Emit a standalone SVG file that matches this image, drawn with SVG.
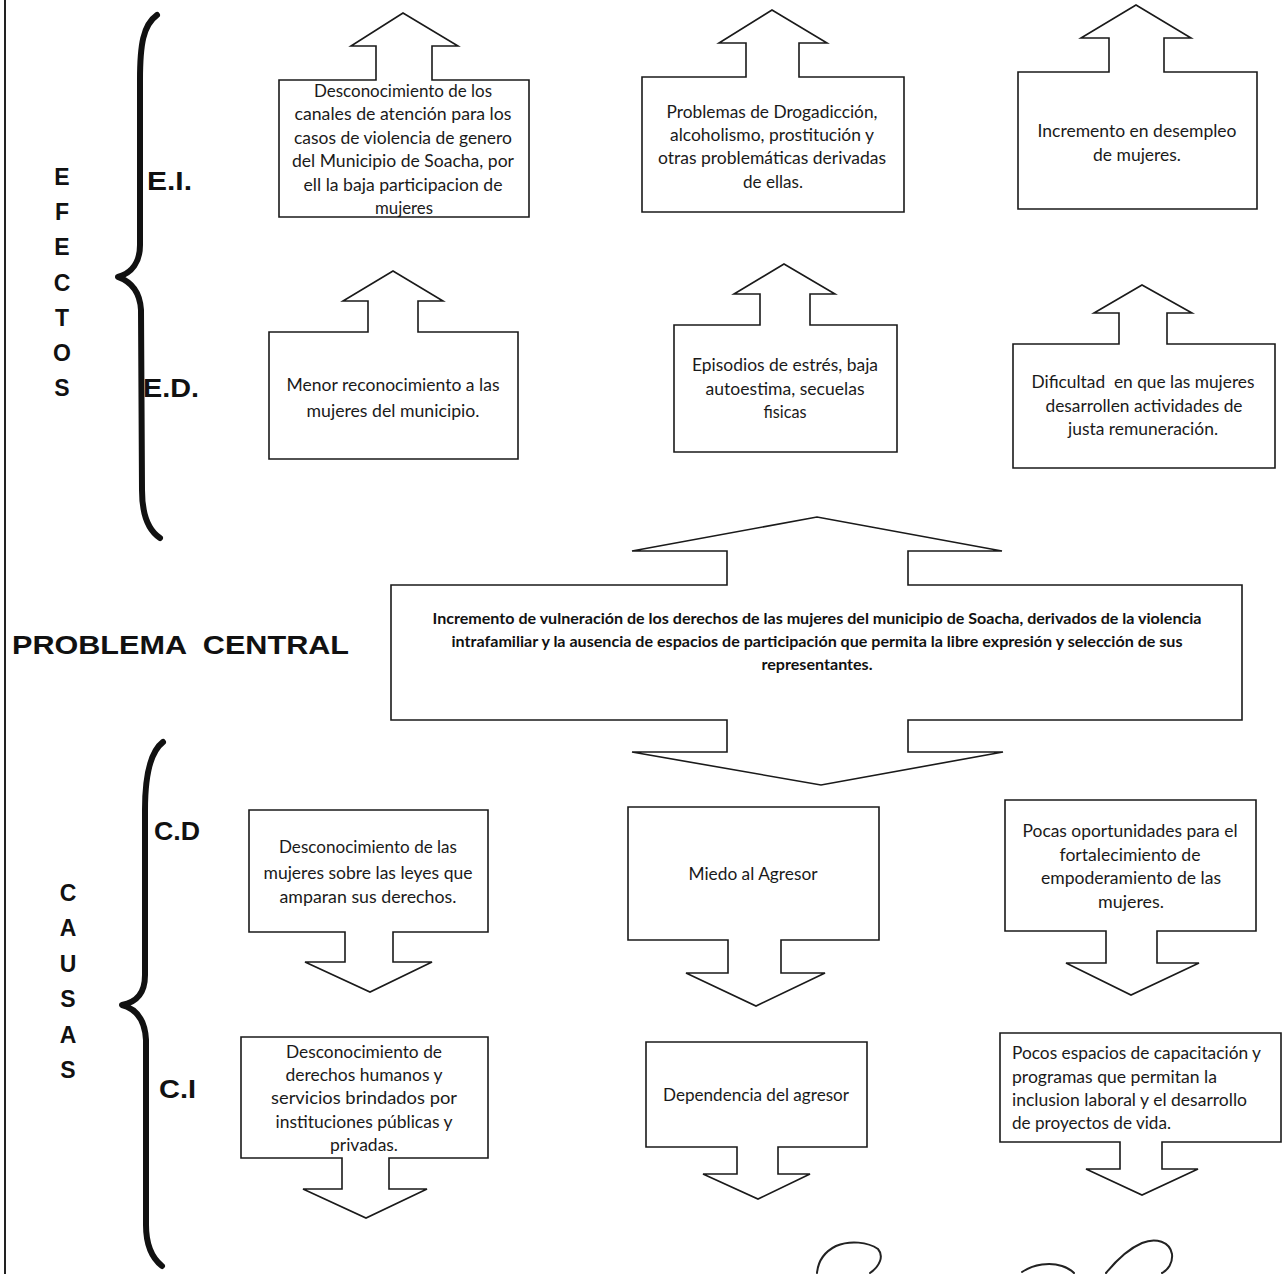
<svg xmlns="http://www.w3.org/2000/svg" width="1284" height="1274" viewBox="0 0 1284 1274">
<style>
.shape{fill:#fff;stroke:#1a1a1a;stroke-width:1.6;stroke-linejoin:miter}
.t{font-family:Lato,"Liberation Sans",sans-serif;font-size:17.5px;fill:#1a1a1a;text-anchor:middle}
.tl{font-family:Lato,"Liberation Sans",sans-serif;font-size:17.5px;fill:#1a1a1a;text-anchor:start}
.tb{font-family:Lato,"Liberation Sans",sans-serif;font-size:15px;font-weight:bold;fill:#111;text-anchor:middle}
.lab{font-family:"Liberation Sans",Arial,sans-serif;font-weight:bold;fill:#111;font-size:26px}
.let{font-family:"Liberation Sans",Arial,sans-serif;font-weight:bold;fill:#111;font-size:23px;text-anchor:middle}
.brace{fill:none;stroke:#111;stroke-width:6;stroke-linecap:round;stroke-linejoin:round}
.sig{fill:none;stroke:#222;stroke-width:2;stroke-linecap:round}
</style>
<rect width="1284" height="1274" fill="#fff"/>
<line x1="5" y1="0" x2="5" y2="1274" stroke="#222" stroke-width="2"/>

<g id="labels">
  <path class="brace" d="M157,15 C143,25 140,45 140,80 L140,245 C140,262 132,273 118,277 C132,282 140,292 141,310 L142,490 C142,515 148,530 160,538"/>
  <path class="brace" d="M163,742 C150,752 145,775 145,810 L145,975 C145,993 137,1002 122,1005 C137,1009 145,1020 146,1040 L146,1225 C146,1245 152,1258 162,1266"/>
  <text class="let" x="62" y="185">E</text>
  <text class="let" x="62" y="220">F</text>
  <text class="let" x="62" y="255">E</text>
  <text class="let" x="62" y="291">C</text>
  <text class="let" x="62" y="326">T</text>
  <text class="let" x="62" y="361">O</text>
  <text class="let" x="62" y="396">S</text>
  <text class="let" x="68" y="901">C</text>
  <text class="let" x="68" y="936">A</text>
  <text class="let" x="68" y="972">U</text>
  <text class="let" x="68" y="1007">S</text>
  <text class="let" x="68" y="1043">A</text>
  <text class="let" x="68" y="1078">S</text>
  <text class="lab" x="147" y="190" textLength="45" lengthAdjust="spacingAndGlyphs">E.I.</text>
  <text class="lab" x="143" y="397" textLength="56" lengthAdjust="spacingAndGlyphs">E.D.</text>
  <text class="lab" x="154" y="840" textLength="46" lengthAdjust="spacingAndGlyphs">C.D</text>
  <text class="lab" x="159" y="1098" textLength="37" lengthAdjust="spacingAndGlyphs">C.I</text>
  <text class="lab" x="12" y="654" font-size="31" textLength="337" lengthAdjust="spacingAndGlyphs" style="white-space:pre">PROBLEMA  CENTRAL</text>
</g>

<g id="connectors"></g>

<g id="e1">
  <polygon class="shape" points="279,80 376,80 376,46 351,46 403,13 458,46 432,46 432,80 529,80 529,217 279,217"/>
  <text class="t" x="403" y="97" textLength="178" lengthAdjust="spacingAndGlyphs">Desconocimiento de los</text>
  <text class="t" x="403" y="120" textLength="217" lengthAdjust="spacingAndGlyphs">canales de atención para los</text>
  <text class="t" x="403" y="144" textLength="218" lengthAdjust="spacingAndGlyphs">casos de violencia de genero</text>
  <text class="t" x="403" y="167" textLength="222" lengthAdjust="spacingAndGlyphs">del Municipio de Soacha, por</text>
  <text class="t" x="403" y="191" textLength="199" lengthAdjust="spacingAndGlyphs">ell la baja participacion de</text>
  <text class="t" x="404" y="214" textLength="58" lengthAdjust="spacingAndGlyphs">mujeres</text>
</g>
<g id="e2">
  <polygon class="shape" points="642,77 746,77 746,43 719,43 772,10 827,43 799,43 799,77 904,77 904,212 642,212"/>
  <text class="t" x="772" y="118" textLength="211" lengthAdjust="spacingAndGlyphs">Problemas de Drogadicción,</text>
  <text class="t" x="772" y="141" textLength="204" lengthAdjust="spacingAndGlyphs">alcoholismo, prostitución y</text>
  <text class="t" x="772" y="164" textLength="228" lengthAdjust="spacingAndGlyphs">otras problemáticas derivadas</text>
  <text class="t" x="773" y="188" textLength="60" lengthAdjust="spacingAndGlyphs">de ellas.</text>
</g>
<g id="e3">
  <polygon class="shape" points="1018,72 1109,72 1109,38 1081,38 1136,5 1191,38 1164,38 1164,72 1257,72 1257,209 1018,209"/>
  <text class="t" x="1137" y="137" textLength="199" lengthAdjust="spacingAndGlyphs">Incremento en desempleo</text>
  <text class="t" x="1137" y="161" textLength="88" lengthAdjust="spacingAndGlyphs">de mujeres.</text>
</g>
<g id="e4">
  <polygon class="shape" points="269,332 368,332 368,301 343,301 393,271 443,301 418,301 418,332 518,332 518,459 269,459"/>
  <text class="t" x="393" y="391" textLength="213" lengthAdjust="spacingAndGlyphs">Menor reconocimiento a las</text>
  <text class="t" x="393" y="417" textLength="173" lengthAdjust="spacingAndGlyphs">mujeres del municipio.</text>
</g>
<g id="e5">
  <polygon class="shape" points="674,325 760,325 760,294 734,294 784,264 835,294 810,294 810,325 897,325 897,452 674,452"/>
  <text class="t" x="785" y="371" textLength="186" lengthAdjust="spacingAndGlyphs">Episodios de estrés, baja</text>
  <text class="t" x="785" y="395" textLength="159" lengthAdjust="spacingAndGlyphs">autoestima, secuelas</text>
  <text class="t" x="785" y="418" textLength="43" lengthAdjust="spacingAndGlyphs">fisicas</text>
</g>
<g id="e6">
  <polygon class="shape" points="1013,344 1119,344 1119,313 1094,313 1142,285 1192,313 1167,313 1167,344 1275,344 1275,468 1013,468"/>
  <text class="t" x="1143" y="388" textLength="223" lengthAdjust="spacingAndGlyphs" style="white-space:pre">Dificultad  en que las mujeres</text>
  <text class="t" x="1144" y="412" textLength="197" lengthAdjust="spacingAndGlyphs">desarrollen actividades de</text>
  <text class="t" x="1143" y="435" textLength="150" lengthAdjust="spacingAndGlyphs">justa remuneración.</text>
</g>

<g id="central">
  <polygon class="shape" points="391,585 727,585 727,551 632,551 817,517 1002,551 908,551 908,585 1242,585 1242,720 908,720 908,752 1003,752 821,785 632,752 727,752 727,720 391,720"/>
  <text class="tb" x="817" y="624" textLength="769" lengthAdjust="spacingAndGlyphs">Incremento de vulneración de los derechos de las mujeres del municipio de Soacha, derivados de la violencia</text>
  <text class="tb" x="817" y="647" textLength="731" lengthAdjust="spacingAndGlyphs">intrafamiliar y la ausencia de espacios de participación que permita la libre expresión y selección de sus</text>
  <text class="tb" x="817" y="670" textLength="111" lengthAdjust="spacingAndGlyphs">representantes.</text>
</g>

<g id="c1">
  <polygon class="shape" points="249,810 488,810 488,932 393,932 393,962 432,962 370,992 305,962 345,962 345,932 249,932"/>
  <text class="t" x="368" y="853" textLength="178" lengthAdjust="spacingAndGlyphs">Desconocimiento de las</text>
  <text class="t" x="368" y="879" textLength="209" lengthAdjust="spacingAndGlyphs">mujeres sobre las leyes que</text>
  <text class="t" x="368" y="903" textLength="177" lengthAdjust="spacingAndGlyphs">amparan sus derechos.</text>
</g>
<g id="c2">
  <polygon class="shape" points="628,807 879,807 879,940 781,940 781,973 825,973 756,1006 686,973 728,973 728,940 628,940"/>
  <text class="t" x="753" y="880" textLength="129" lengthAdjust="spacingAndGlyphs">Miedo al Agresor</text>
</g>
<g id="c3">
  <polygon class="shape" points="1005,800 1256,800 1256,931 1157,931 1157,963 1199,963 1131,995 1066,963 1106,963 1106,931 1005,931"/>
  <text class="t" x="1130" y="837" textLength="215" lengthAdjust="spacingAndGlyphs">Pocas oportunidades para el</text>
  <text class="t" x="1130" y="861" textLength="141" lengthAdjust="spacingAndGlyphs">fortalecimiento de</text>
  <text class="t" x="1131" y="884" textLength="180" lengthAdjust="spacingAndGlyphs">empoderamiento de las</text>
  <text class="t" x="1131" y="908" textLength="66" lengthAdjust="spacingAndGlyphs">mujeres.</text>
</g>
<g id="c4">
  <polygon class="shape" points="241,1037 488,1037 488,1158 389,1158 389,1189 427,1189 366,1218 303,1189 342,1189 342,1158 241,1158"/>
  <text class="t" x="364" y="1058" textLength="156" lengthAdjust="spacingAndGlyphs">Desconocimiento de</text>
  <text class="t" x="364" y="1081" textLength="157" lengthAdjust="spacingAndGlyphs">derechos humanos y</text>
  <text class="t" x="364" y="1104" textLength="186" lengthAdjust="spacingAndGlyphs">servicios brindados por</text>
  <text class="t" x="364" y="1128" textLength="177" lengthAdjust="spacingAndGlyphs">instituciones públicas y</text>
  <text class="t" x="364" y="1151" textLength="68" lengthAdjust="spacingAndGlyphs">privadas.</text>
</g>
<g id="c5">
  <polygon class="shape" points="646,1042 867,1042 867,1147 778,1147 778,1174 810,1174 758,1199 703,1174 737,1174 737,1147 646,1147"/>
  <text class="t" x="756" y="1101" textLength="186" lengthAdjust="spacingAndGlyphs">Dependencia del agresor</text>
</g>
<g id="c6">
  <polygon class="shape" points="1000,1033 1281,1033 1281,1142 1162,1142 1162,1169 1198,1169 1142,1195 1086,1169 1120,1169 1120,1142 1000,1142"/>
  <text class="tl" x="1012" y="1059" textLength="249" lengthAdjust="spacingAndGlyphs">Pocos espacios de capacitación y</text>
  <text class="tl" x="1012" y="1083" textLength="205" lengthAdjust="spacingAndGlyphs">programas que permitan la</text>
  <text class="tl" x="1012" y="1106" textLength="235" lengthAdjust="spacingAndGlyphs">inclusion laboral y el desarrollo</text>
  <text class="tl" x="1012" y="1129" textLength="159" lengthAdjust="spacingAndGlyphs">de proyectos de vida.</text>
</g>

<g id="signature">
  <path class="sig" d="M817,1273 C818,1262 824,1252 836,1246 C850,1240 868,1242 878,1249 C884,1256 880,1266 870,1273"/>
  <path class="sig" d="M1022,1272 C1034,1264 1050,1262 1062,1266 C1068,1268 1072,1271 1074,1273"/>
  <path class="sig" d="M1106,1273 C1115,1262 1128,1249 1142,1243 C1156,1237 1170,1242 1172,1254 C1173,1263 1168,1270 1162,1273"/>
</g>
</svg>
